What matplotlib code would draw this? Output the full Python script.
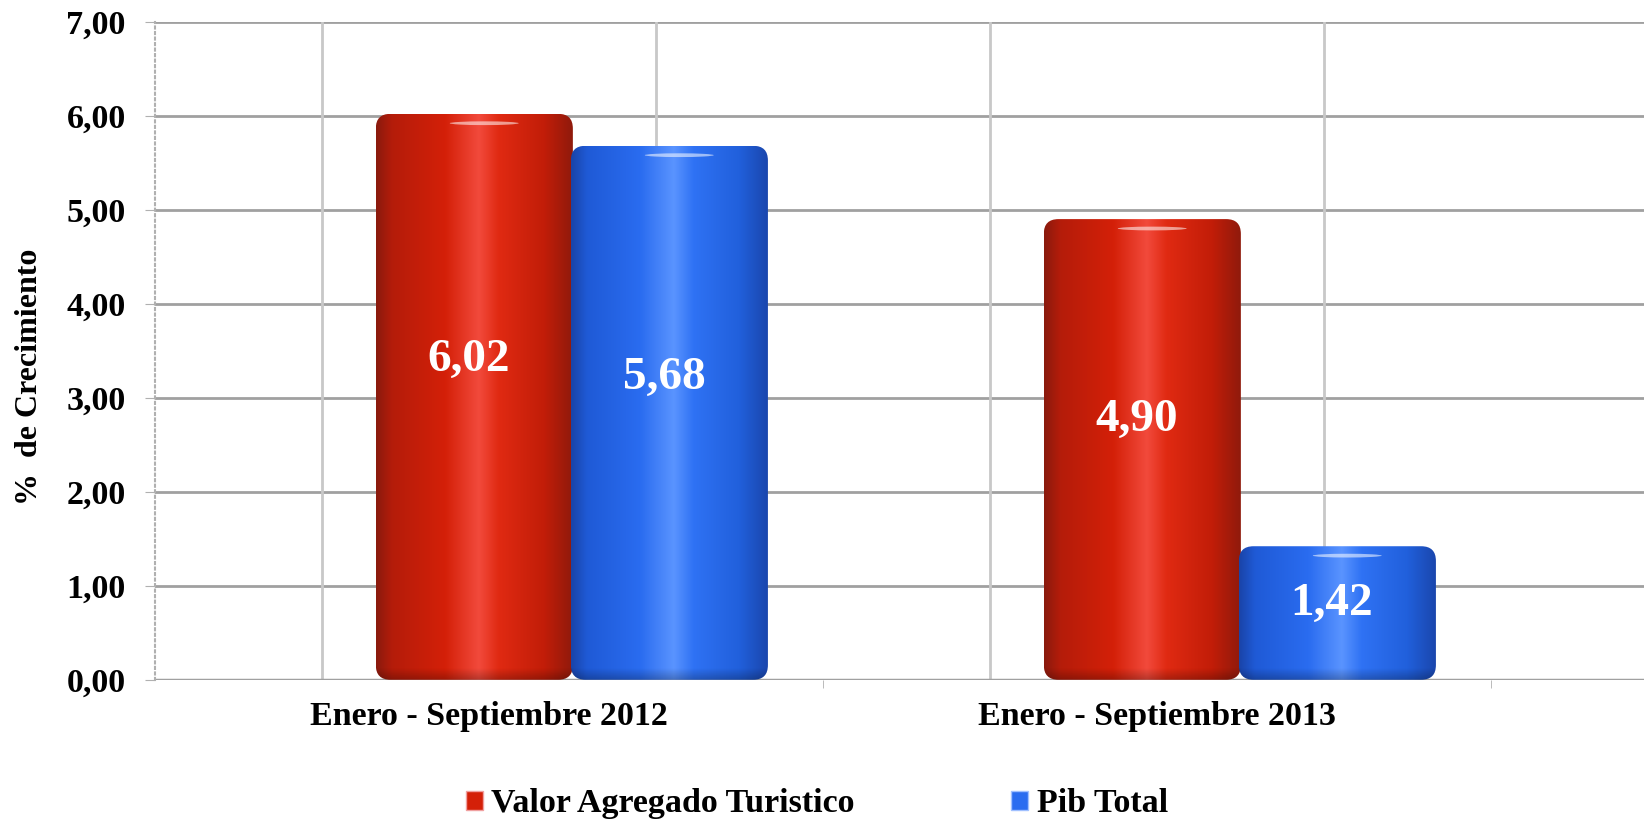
import numpy as np
import matplotlib
matplotlib.use("Agg")
import matplotlib.pyplot as plt
from matplotlib.colors import LinearSegmentedColormap
from matplotlib.patches import FancyBboxPatch, Patch, Ellipse

plt.rcParams["font.family"] = ["Liberation Serif", "DejaVu Serif"]
plt.rcParams["font.weight"] = "bold"

# Datos
periodos = ["Enero - Septiembre 2012", "Enero - Septiembre 2013"]
series = ["Valor Agregado Turistico", "Pib Total"]
valor_turistico = [6.02, 4.90]
pib_total = [5.68, 1.42]
yticks = [0, 1, 2, 3, 4, 5, 6, 7]

# Perfiles de color tipo cilindro (izquierda -> derecha)
rojo = LinearSegmentedColormap.from_list("rojo", [
    (0.0, "#8a1a0e"), (0.08, "#b41c0a"), (0.35, "#d42008"),
    (0.52, "#f24a3c"), (0.62, "#e02a12"), (0.85, "#c21d08"), (1.0, "#8e1a0c")])
azul = LinearSegmentedColormap.from_list("azul", [
    (0.0, "#1a44a8"), (0.08, "#1f5ad6"), (0.35, "#2a6cf0"),
    (0.52, "#5a94ff"), (0.62, "#2f72f4"), (0.85, "#2160dc"), (1.0, "#1a46ac")])


def cilindro(ax, rect, cmap):
    # Barra redondeada con degradado horizontal
    x0, w, h = rect.get_x(), rect.get_width(), rect.get_height()
    caja = FancyBboxPatch((x0, 0), w, h,
                          boxstyle="round,pad=0,rounding_size=0.022",
                          mutation_aspect=7.1, fc="none", ec="none", zorder=3)
    ax.add_patch(caja)
    grad = np.linspace(0, 1, 256).reshape(1, -1)
    im = ax.imshow(grad, cmap=cmap, extent=[x0, x0 + w, 0, h],
                   aspect="auto", zorder=3, interpolation="bicubic")
    im.set_clip_path(caja)
    # sombra inferior suave
    sombra = np.linspace(0, 1, 64).reshape(-1, 1)
    im2 = ax.imshow(sombra, cmap=LinearSegmentedColormap.from_list(
        "s", [(0, (0, 0, 0, 0)), (1, (0, 0, 0, 0.25))]),
        extent=[x0, x0 + w, 0, 0.12], aspect="auto", zorder=3.5)
    im2.set_clip_path(caja)
    # brillo superior
    ax.add_patch(Ellipse((x0 + w * 0.55, h - 0.1), w * 0.35, 0.04,
                         fc="white", ec="none", alpha=0.55, zorder=4))


fig = plt.figure(figsize=(16.44, 8.22), dpi=100)
ax = fig.add_axes([0.0943, 0.1731, 0.9057, 0.8005])

x = np.arange(len(periodos))
ancho = 0.295
b1 = ax.bar(x - 0.022, valor_turistico, ancho, color="none", zorder=3)
b2 = ax.bar(x + 0.27, pib_total, ancho, color="none", zorder=3)

for r in b1:
    cilindro(ax, r, rojo)
for r in b2:
    cilindro(ax, r, azul)

for r, v in list(zip(b1, valor_turistico)) + list(zip(b2, pib_total)):
    ax.text(r.get_x() + r.get_width() / 2 - 0.008, v * 0.565,
            f"{v:.2f}".replace(".", ","),
            ha="center", va="center", color="white", fontsize=34,
            fontweight="bold", zorder=5)

ax.set_xlim(-0.5, 1.729)
ax.set_ylim(0, 7)

# Rejilla
for yv in yticks[1:]:
    ax.axhline(yv, color="#a0a0a0", lw=2, zorder=1)
for xv in [-0.25, 0.25, 0.75, 1.25]:
    ax.axvline(xv, color="#c8c8c8", lw=2, zorder=1)
ax.axhline(0, color="#a0a0a0", lw=2.5, zorder=2)

ax.set_yticks(yticks)
ax.set_yticklabels([f"{v:.2f}".replace(".", ",") for v in yticks], fontsize=24.5)
ax.tick_params(axis="y", length=7, color="#b0b0b0", pad=14)
ax.set_xticks(x)
ax.set_xticklabels(periodos, fontsize=24.5)
ax.tick_params(axis="x", length=0, pad=15)
ax.set_xticks([0.5, 1.5], minor=True)
ax.tick_params(axis="x", which="minor", length=6, color="#b0b0b0")

for s in ["top", "right", "bottom"]:
    ax.spines[s].set_visible(False)
ax.spines["left"].set_color("#b0b0b0")
ax.spines["left"].set_linestyle(":")
ax.spines["left"].set_linewidth(1.5)

ax.set_ylabel("%  de Crecimiento", fontsize=23, fontweight="bold")
ax.yaxis.set_label_coords(-0.0745, 0.46)

handles = [Patch(fc="#d42008", ec="#f0a0a0"), Patch(fc="#2a6cf0", ec="#a0c0ff")]
fig.legend(handles, series, loc="center", bbox_to_anchor=(0.497, 0.022), ncol=2,
           frameon=False, fontsize=24.5, handlelength=0.5, handleheight=0.5,
           handletextpad=0.25, columnspacing=4.6)

fig.savefig("out.png", dpi=100)
